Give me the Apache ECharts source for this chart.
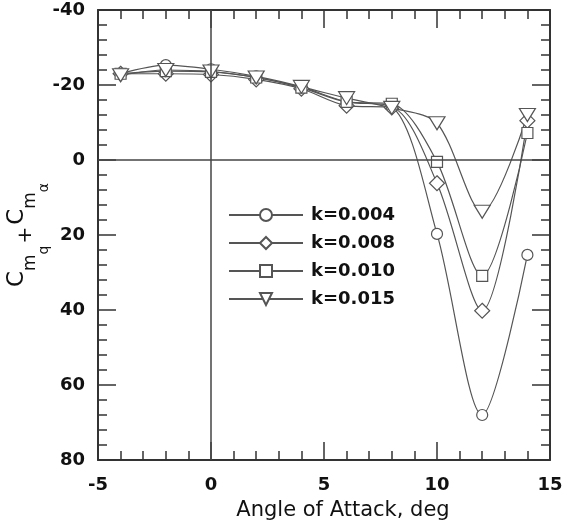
<!DOCTYPE html>
<html>
<head>
<meta charset="utf-8">
<script src="https://cdn.jsdelivr.net/npm/echarts@6/dist/echarts.min.js"></script>
<style>
html,body{margin:0;padding:0;background:#fff;}
#chart{width:563px;height:529px;}
</style>
</head>
<body>
<div id="chart"></div>
<script>
// ---- data ----
var angles = [-4, -2, 0, 2, 4, 6, 8, 10, 12, 14];
var k004 = [-23, -25.3, -24.2, -22.3, -19.5, -15.5, -14.2, 19.7, 68, 25.3];
var k008 = [-23, -23, -22.8, -21.5, -19, -14.5, -14, 6.2, 40.2, -10.5];
var k010 = [-23, -23.7, -23.5, -22, -19.3, -15.5, -15, 0.5, 30.9, -7.2];
var k015 = [-22.6, -24, -23.6, -22, -19.5, -16.5, -13.9, -9.8, 13.8, -12];
var seriesNames = ['k=0.004', 'k=0.008', 'k=0.010', 'k=0.015'];
var xTitle = 'Angle of Attack, deg';
var xRange = [-5, 15, 5];
var yRange = [-40, 80, 20];

function pairs(ys) { return angles.map(function (a, i) { return [a, ys[i]]; }); }

var axisColor = '#333';
var lineColor = '#555';
var tickFont = { fontFamily: 'DejaVu Sans', fontWeight: 'bold', fontSize: 18, color: '#111' };

function xAxisCfg(pos, showLabel) {
  return {
    type: 'value', position: pos, min: xRange[0], max: xRange[1], interval: xRange[2],
    axisLine: { show: true, onZero: false, lineStyle: { color: axisColor, width: 2 } },
    axisTick: { show: true, inside: true, length: 18, lineStyle: { color: axisColor, width: 1.5 } },
    minorTick: { show: true, splitNumber: 5, length: 9, lineStyle: { color: axisColor, width: 1.5 } },
    splitLine: { show: false },
    axisLabel: Object.assign({ show: showLabel, margin: 16 }, tickFont)
  };
}
function yAxisCfg(pos, showLabel) {
  return {
    type: 'value', position: pos, inverse: true, min: yRange[0], max: yRange[1], interval: yRange[2],
    axisLine: { show: true, onZero: false, lineStyle: { color: axisColor, width: 2 } },
    axisTick: { show: true, inside: true, length: 18, lineStyle: { color: axisColor, width: 1.5 } },
    minorTick: { show: true, splitNumber: 5, length: 9, lineStyle: { color: axisColor, width: 1.5 } },
    splitLine: { show: false },
    axisLabel: Object.assign({ show: showLabel, margin: 13 }, tickFont)
  };
}

var xBottom = xAxisCfg('bottom', true);
xBottom.name = xTitle;
xBottom.nameLocation = 'middle';
xBottom.nameGap = 40;
xBottom.nameMoveOverlap = false;
xBottom.nameTextStyle = { fontFamily: 'DejaVu Sans', fontSize: 21, color: '#111', padding: [0, 0, 0, 38] };

var yLeft = yAxisCfg('left', true);
yLeft.name = '{c|C}{m|m}{s|q}{p|+}{c|C}{m|m}{s|\u03b1}';
yLeft.nameLocation = 'middle';
yLeft.nameRotate = 90;
yLeft.nameGap = 44;
yLeft.nameMoveOverlap = false;
yLeft.nameTextStyle = {
  fontFamily: 'DejaVu Sans', color: '#111', lineHeight: 50,
  rich: {
    c: { fontFamily: 'DejaVu Sans', fontSize: 23, color: '#111', lineHeight: 50, verticalAlign: 'top', padding: [1.5, 0, 0, 0] },
    m: { fontFamily: 'DejaVu Sans', fontSize: 17, color: '#111', lineHeight: 50, verticalAlign: 'top', padding: [18.5, 0, 0, 0] },
    s: { fontFamily: 'DejaVu Sans', fontSize: 14, color: '#111', lineHeight: 50, verticalAlign: 'top', padding: [33, 0, 0, 0] },
    p: { fontFamily: 'DejaVu Sans', fontSize: 20, color: '#111', lineHeight: 50, verticalAlign: 'top', padding: [12, 2, 0, 2] }
  }
};

function mkSeries(name, ys, symbol, size, rotate) {
  return {
    name: name, type: 'line', data: pairs(ys), smooth: 0.3,
    symbol: symbol, symbolSize: size, symbolRotate: rotate || 0,
    showAllSymbol: true,
    lineStyle: { color: lineColor, width: 1.2 },
    itemStyle: { color: '#fff', borderColor: lineColor, borderWidth: 1.2 },
    emphasis: { disabled: true },
    z: 3
  };
}

var series = [
  mkSeries(seriesNames[0], k004, 'circle', 11),
  mkSeries(seriesNames[1], k008, 'diamond', 15),
  mkSeries(seriesNames[2], k010, 'rect', 11),
  mkSeries(seriesNames[3], k015, 'triangle', [16, 13], 180)
];
series[0].markLine = {
  silent: true, symbol: 'none', animation: false,
  label: { show: false },
  lineStyle: { color: '#444', width: 1.5, type: 'solid' },
  data: [{ xAxis: 0 }, { yAxis: 0 }]
};

var chart = echarts.init(document.getElementById('chart'), null, { renderer: 'canvas' });
chart.setOption({
  animation: false,
  backgroundColor: '#fff',
  grid: { left: 98, right: 13, top: 10, bottom: 69, containLabel: false, outerBoundsMode: 'none' },
  xAxis: [xBottom, xAxisCfg('top', false)],
  yAxis: [yLeft, yAxisCfg('right', false)],
  legend: {
    orient: 'vertical', left: 228, top: 206, padding: 0,
    itemWidth: 74, itemHeight: 15, itemGap: 10,
    selectedMode: false,
    data: seriesNames,
    textStyle: { fontFamily: 'DejaVu Sans', fontWeight: 'bold', fontSize: 18, color: '#111', lineHeight: 18, padding: [0, 0, 0, 3] }
  },
  series: series
});
</script>
</body>
</html>
